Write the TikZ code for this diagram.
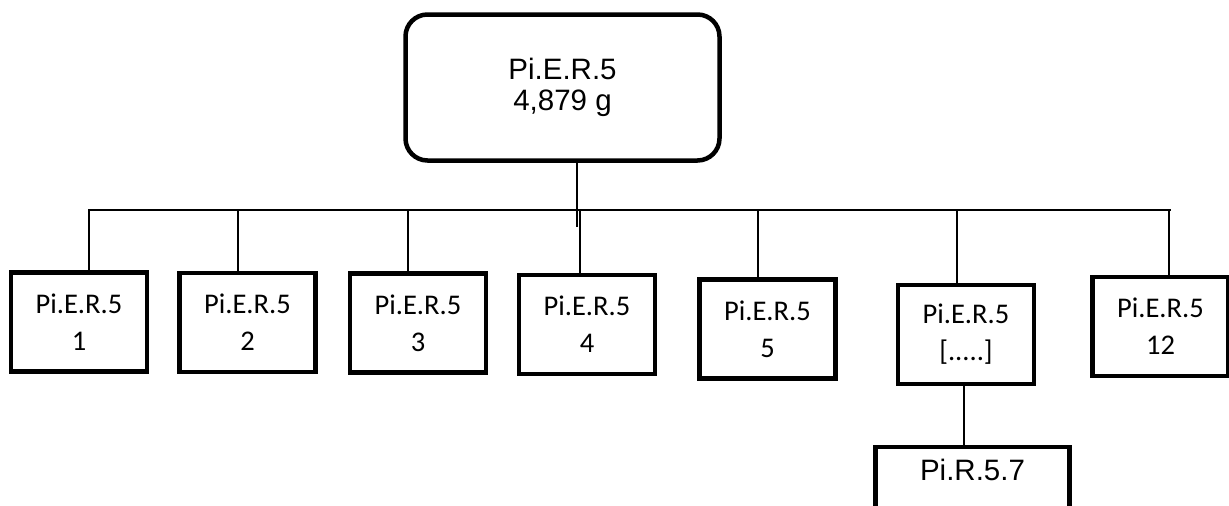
\documentclass[tikz,border=0pt]{standalone}
\usepackage{fontspec}
\setmainfont{Liberation Sans}
\newfontfamily\leaffont{Carlito}
\tikzset{
  root/.style={draw, line width=4.5pt, rounded corners=22pt, align=center,
    minimum width=314pt, minimum height=146pt,
    font=\fontsize{29.5}{31}\selectfont},
  leaf/.style={draw, line width=4.5pt, align=center, inner sep=0pt,
    minimum width=136pt, minimum height=99pt,
    font=\leaffont\fontsize{28.5}{37}\selectfont},
  link/.style={line width=1.6pt}
}
\begin{document}
\begin{tikzpicture}[x=1pt, y=-1pt]
				\useasboundingbox (0,0) rectangle (1229,506);
				\clip (0,0) rectangle (1229,506);
				\node[root] (top) at (562.5,87.5) {Pi.E.R.5\\4,879 g};
				\node[leaf] (b1) at (79,322) {Pi.E.R.5\\1};
				\node[leaf] (b2) at (247.5,322.5) {Pi.E.R.5\\2};
				\node[leaf] (b3) at (418,323) {Pi.E.R.5\\3};
				\node[leaf] (b4) at (587,324.5) {Pi.E.R.5\\4};
				\node[leaf] (b5) at (767.5,329) {Pi.E.R.5\\5};
				\node[leaf] (b6) at (966,334.5) {Pi.E.R.5\\{[.....]}};
				\node[leaf] (b7) at (1160.5,326.5) {Pi.E.R.5\\12};
				\node[draw, line width=4.5pt, minimum width=194pt, inner xsep=0pt, inner ysep=0pt,
				  text height=34pt, text depth=56pt, font=\fontsize{29.5}{31}\selectfont,
				  anchor=north] (sub) at (972.5,444.5) {Pi.R.5.7};
				\coordinate (trunk) at (577,227);
				\coordinate (busL) at (88,210);
				\coordinate (busR) at (1171,210);
				\draw[link] (top.south -| trunk) -- (trunk);
				\draw[link] (busL) -- (busR);
				\foreach \n/\x in {b1/89, b2/238, b3/408, b4/580, b5/758, b6/957, b7/1169} {
					\coordinate (d\n) at (\x,210);
					\draw[link] (d\n) -- (d\n |- \n.north);
				}
				\coordinate (dsub) at (964,0);
				\draw[link] (dsub |- b6.south) -- (dsub |- sub.north);
			\end{tikzpicture}
\end{document}
